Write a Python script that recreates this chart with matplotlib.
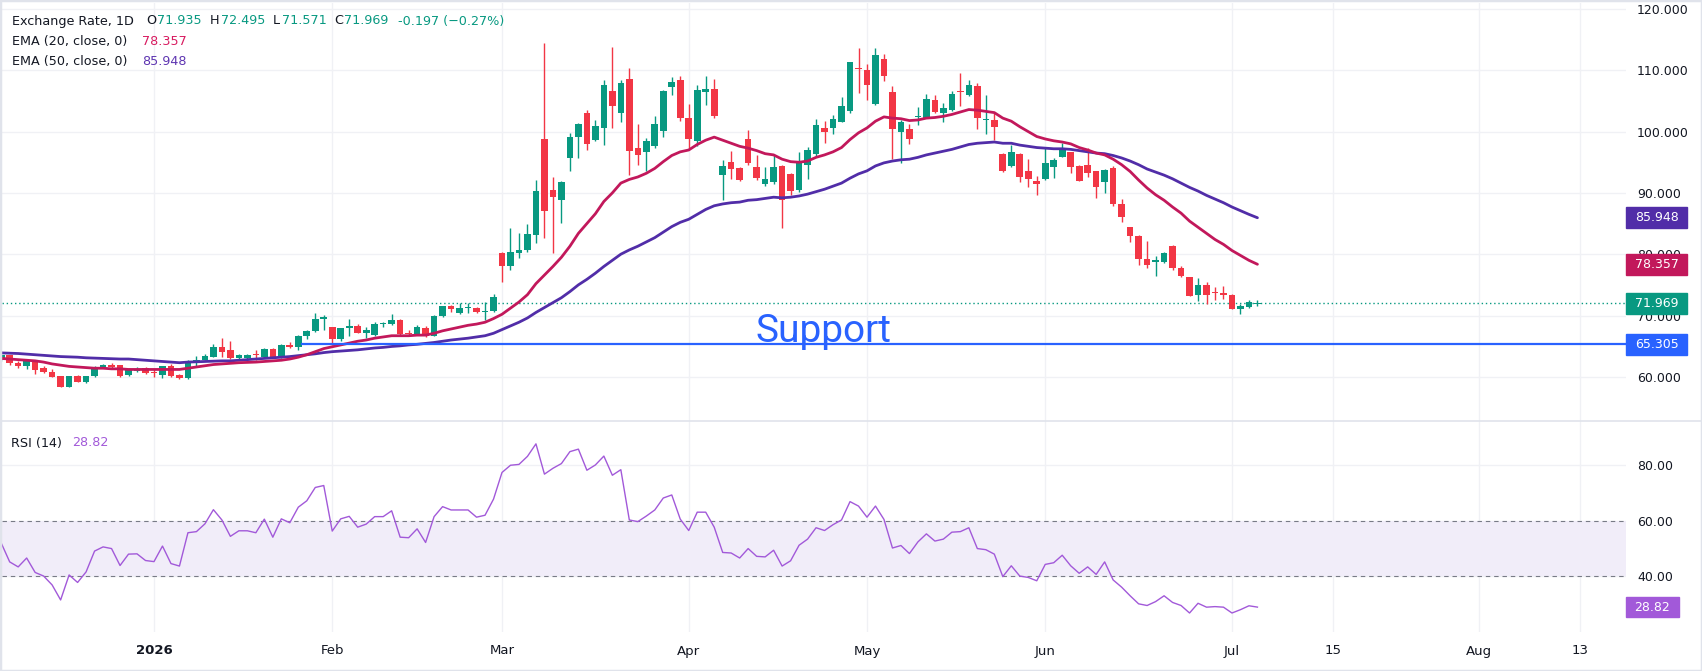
import numpy as np
import matplotlib.pyplot as plt
from matplotlib import transforms
from matplotlib.patches import Rectangle
from matplotlib.lines import Line2D

# ---- data (one candle per trading day) ----
opens = [62.8, 63.5, 62.3, 61.7, 62.5, 61.4, 60.8, 60.1, 58.4, 60.1,
         59.1, 60.1, 61.6, 62.0, 61.9, 60.3, 60.9, 61.4, 60.8, 60.3,
         61.7, 60.3, 59.8, 62.6, 62.8, 63.3, 64.8, 64.3, 63.1, 63.0,
         63.6, 63.2, 64.6, 63.2, 65.2, 64.8, 66.6, 67.4, 69.4, 68.1,
         66.1, 67.9, 68.3, 67.2, 66.8, 68.6, 68.6, 69.3, 67.1, 67.0,
         68.0, 66.7, 69.9, 71.6, 70.4, 71.2, 71.2, 70.6, 70.8, 80.2,
         78.0, 80.2, 80.7, 83.2, 98.8, 90.5, 88.8, 95.7, 99.2, 103.0,
         98.6, 100.6, 106.6, 103.1, 108.6, 97.4, 96.6, 97.7, 100.1, 107.3,
         108.4, 102.2, 98.4, 106.4, 106.9, 92.9, 95.1, 94.1, 98.8, 94.3,
         91.4, 91.7, 94.4, 93.1, 90.4, 94.6, 96.3, 100.6, 100.6, 101.6,
         103.4, 110.4, 110.0, 104.5, 111.9, 106.5, 100.0, 100.5, 102.4, 102.3,
         105.2, 103.1, 103.5, 106.6, 105.9, 107.4, 101.9, 101.9, 96.3, 94.4,
         96.3, 93.6, 91.9, 92.2, 94.3, 95.9, 96.6, 94.4, 94.5, 93.5,
         91.7, 94.1, 88.2, 84.4, 83.0, 79.2, 78.7, 78.8, 81.3, 77.8,
         76.2, 73.3, 74.9, 73.8, 73.6, 73.3, 71.1, 71.4, 71.935]
highs = [63.7, 63.6, 62.6, 62.6, 62.6, 61.7, 61.2, 60.2, 60.2, 60.3,
         60.2, 61.7, 62.1, 62.2, 62.0, 61.5, 61.6, 61.6, 61.2, 61.8,
         62.1, 60.5, 62.7, 63.4, 63.7, 65.3, 66.3, 65.9, 63.8, 63.8,
         64.4, 64.7, 64.7, 65.3, 65.6, 66.8, 67.6, 70.4, 70.1, 68.2,
         68.0, 69.4, 68.6, 68.1, 69.0, 69.0, 70.3, 69.5, 67.6, 68.4,
         68.3, 70.1, 71.6, 71.7, 72.0, 72.0, 71.4, 72.2, 73.5, 80.3,
         84.3, 83.5, 84.9, 92.1, 114.5, 92.6, 91.9, 99.7, 101.4, 103.5,
         101.9, 108.4, 113.8, 108.5, 110.4, 101.2, 98.9, 102.5, 106.8, 108.9,
         109.1, 104.5, 107.6, 109.1, 108.6, 95.4, 96.9, 94.2, 100.3, 96.2,
         94.3, 96.2, 94.5, 93.2, 96.7, 97.5, 102.1, 101.8, 102.7, 105.7,
         111.4, 113.6, 111.1, 113.6, 112.7, 107.4, 101.9, 101.2, 104.0, 106.2,
         105.9, 104.7, 106.7, 109.6, 108.4, 107.9, 106.0, 103.0, 96.5, 97.8,
         96.5, 95.6, 92.8, 97.4, 95.7, 98.2, 96.7, 94.6, 97.3, 93.6,
         93.9, 94.4, 89.0, 84.5, 83.2, 82.2, 79.7, 80.4, 81.5, 78.0,
         76.3, 76.1, 75.5, 74.7, 74.8, 73.5, 71.8, 72.5, 72.495]
lows = [62.5, 62.0, 61.5, 61.2, 60.5, 60.6, 59.9, 58.3, 58.3, 59.1,
        59.0, 60.0, 61.4, 61.5, 60.0, 60.2, 60.8, 60.5, 59.9, 59.8,
        60.0, 59.7, 59.7, 61.7, 62.7, 63.2, 63.2, 62.9, 62.8, 62.8,
        62.7, 63.1, 63.0, 63.1, 64.7, 64.3, 66.1, 67.3, 67.6, 65.2,
        65.9, 66.7, 67.1, 66.4, 66.7, 68.2, 68.5, 66.9, 66.6, 66.9,
        66.5, 66.6, 69.8, 70.6, 70.3, 70.4, 70.4, 69.3, 70.5, 75.5,
        77.5, 79.4, 80.4, 81.8, 82.7, 80.2, 85.1, 93.5, 95.7, 97.0,
        98.4, 97.8, 100.6, 101.5, 92.9, 94.5, 93.6, 97.4, 99.2, 105.9,
        101.8, 97.1, 97.6, 104.3, 102.3, 88.8, 92.3, 92.0, 94.6, 92.1,
        91.2, 91.5, 84.3, 89.6, 90.1, 92.3, 96.1, 98.1, 99.6, 101.6,
        103.0, 106.3, 105.1, 104.3, 108.2, 95.6, 94.8, 98.0, 101.1, 102.2,
        103.0, 101.5, 103.4, 104.2, 105.8, 100.4, 99.6, 98.6, 93.4, 94.3,
        91.8, 90.9, 89.7, 92.1, 92.5, 95.8, 93.3, 91.9, 92.6, 89.1,
        90.0, 87.9, 85.2, 82.0, 78.2, 77.7, 76.5, 78.6, 77.5, 76.3,
        73.2, 72.4, 71.9, 72.5, 72.7, 71.1, 70.2, 71.3, 71.571]
closes = [63.5, 62.2, 61.7, 62.5, 61.1, 60.8, 60.0, 58.4, 60.1, 59.2,
          60.1, 61.6, 62.0, 61.6, 60.1, 61.1, 61.0, 60.6, 60.7, 61.7,
          60.1, 59.8, 62.6, 62.8, 63.4, 64.8, 64.1, 63.0, 63.6, 63.6,
          63.5, 64.6, 63.2, 65.2, 64.8, 66.7, 67.5, 69.4, 69.8, 66.1,
          67.9, 68.3, 67.2, 67.6, 68.6, 68.8, 69.3, 67.0, 67.0, 68.2,
          66.7, 69.9, 71.6, 71.0, 71.2, 71.3, 70.5, 70.8, 73.1, 78.0,
          80.4, 80.7, 83.3, 90.3, 87.0, 89.4, 91.7, 99.2, 101.2, 98.0,
          100.9, 107.6, 104.1, 108.0, 96.9, 96.2, 98.5, 101.3, 106.7, 108.1,
          102.3, 98.8, 106.8, 106.9, 102.5, 94.4, 93.9, 92.1, 94.8, 92.5,
          92.3, 94.3, 88.8, 90.3, 94.9, 97.0, 101.1, 100.0, 102.0, 104.2,
          111.3, 110.2, 107.6, 112.5, 109.1, 100.5, 101.5, 98.8, 102.5, 105.4,
          103.2, 103.9, 106.2, 106.4, 107.6, 102.3, 102.0, 100.8, 93.6, 96.6,
          92.6, 92.2, 91.4, 94.8, 95.4, 97.2, 94.3, 92.0, 93.3, 91.0,
          93.8, 88.2, 86.0, 82.9, 79.2, 78.2, 79.1, 80.2, 77.7, 76.4,
          73.2, 74.9, 73.3, 73.7, 73.4, 71.1, 71.6, 72.166, 71.969]

ema20 = [63.0, 62.9, 62.8, 62.7, 62.6, 62.4, 62.1, 61.9, 61.7, 61.6,
         61.5, 61.4, 61.4, 61.3, 61.3, 61.2, 61.2, 61.2, 61.2, 61.2,
         61.2, 61.2, 61.4, 61.6, 61.8, 62.0, 62.1, 62.2, 62.3, 62.35,
         62.4, 62.5, 62.6, 62.7, 62.9, 63.2, 63.6, 64.1, 64.6, 64.9,
         65.2, 65.5, 65.8, 66.0, 66.3, 66.5, 66.7, 66.7, 66.7, 66.8,
         66.8, 67.1, 67.5, 67.8, 68.1, 68.4, 68.6, 68.9, 69.5, 70.2,
         71.2, 72.2, 73.4, 75.2, 76.6, 78.0, 79.5, 81.3, 83.4, 85.0,
         86.6, 88.6, 90.0, 91.6, 92.2, 92.6, 93.2, 94.0, 95.1, 96.1,
         96.7, 97.0, 97.9, 98.6, 99.1, 98.6, 98.1, 97.6, 97.3, 96.9,
         96.4, 96.2, 95.5, 95.1, 95.0, 95.2, 95.8, 96.2, 96.7, 97.4,
         98.7, 99.8, 100.6, 101.7, 102.4, 102.2, 102.1, 101.8, 101.9, 102.2,
         102.3, 102.5, 102.8, 103.2, 103.6, 103.5, 103.3, 103.1, 102.2, 101.7,
         100.8, 100.0, 99.2, 98.8, 98.5, 98.3, 98.0, 97.4, 97.0, 96.5,
         96.2, 95.5, 94.6, 93.5, 92.1, 90.8, 89.7, 88.8, 87.7, 86.7,
         85.4, 84.4, 83.4, 82.4, 81.6, 80.6, 79.8, 79.0, 78.357]
ema50 = [63.9, 63.85, 63.8, 63.7, 63.6, 63.5, 63.4, 63.3, 63.25, 63.2,
         63.1, 63.05, 63.0, 62.95, 62.9, 62.9, 62.8, 62.7, 62.6, 62.5,
         62.4, 62.3, 62.4, 62.45, 62.5, 62.55, 62.6, 62.6, 62.7, 62.8,
         62.9, 63.0, 63.1, 63.2, 63.3, 63.45, 63.6, 63.75, 63.95, 64.1,
         64.2, 64.3, 64.4, 64.55, 64.7, 64.8, 64.95, 65.05, 65.2, 65.3,
         65.45, 65.6, 65.8, 66.0, 66.15, 66.3, 66.5, 66.7, 67.1, 67.7,
         68.3, 68.9, 69.6, 70.5, 71.3, 72.1, 72.9, 73.9, 75.0, 75.9,
         76.9, 78.0, 79.0, 80.0, 80.7, 81.3, 82.0, 82.7, 83.6, 84.5,
         85.2, 85.7, 86.5, 87.3, 87.9, 88.2, 88.4, 88.5, 88.8, 88.9,
         89.1, 89.3, 89.2, 89.3, 89.5, 89.8, 90.2, 90.6, 91.1, 91.6,
         92.4, 93.1, 93.6, 94.4, 94.9, 95.2, 95.4, 95.5, 95.8, 96.2,
         96.5, 96.8, 97.1, 97.5, 97.9, 98.1, 98.2, 98.3, 98.1, 98.1,
         97.8, 97.6, 97.4, 97.3, 97.2, 97.2, 97.1, 96.9, 96.7, 96.5,
         96.4, 96.1, 95.7, 95.2, 94.6, 93.9, 93.4, 92.9, 92.3, 91.6,
         90.9, 90.3, 89.6, 89.0, 88.4, 87.7, 87.1, 86.5, 85.948]
rsi = [51.9, 45.1, 43.3, 46.5, 41.3, 40.0, 36.8, 31.4, 40.4, 37.7,
       41.5, 49.0, 50.5, 49.9, 43.8, 47.9, 48.0, 45.6, 45.2, 50.8,
       44.5, 43.6, 55.6, 56.0, 58.8, 63.9, 60.2, 54.3, 56.3, 56.3,
       55.6, 60.5, 54.0, 60.6, 59.2, 64.8, 67.1, 71.9, 72.6, 56.2,
       60.6, 61.5, 57.6, 58.7, 61.4, 61.4, 63.5, 54.0, 53.8, 57.0,
       52.1, 61.4, 65.0, 63.8, 63.8, 63.8, 61.2, 61.9, 67.7, 77.3,
       79.9, 80.2, 83.1, 87.6, 76.7, 78.8, 80.5, 84.8, 85.7, 78.1,
       80.0, 83.2, 76.3, 78.3, 60.2, 59.6, 61.6, 63.8, 68.1, 69.2,
       60.5, 56.4, 63.0, 63.0, 57.6, 48.5, 48.3, 46.5, 49.9, 47.1,
       46.9, 49.3, 43.6, 45.5, 51.1, 53.3, 57.4, 56.4, 58.5, 60.2,
       66.8, 65.2, 61.2, 65.2, 60.4, 50.1, 51.0, 48.1, 52.3, 55.2,
       52.6, 53.3, 55.8, 56.0, 57.4, 49.9, 49.5, 47.9, 39.8, 43.7,
       40.0, 39.5, 38.3, 44.2, 44.8, 47.5, 43.7, 41.0, 43.3, 40.6,
       45.1, 38.6, 36.0, 32.9, 30.0, 29.4, 30.8, 32.9, 30.5, 29.4,
       26.7, 30.2, 28.8, 29.0, 28.8, 26.7, 27.9, 29.3, 28.82]

support = 65.305
support_start = 35.3

# date labels sit at bar positions (future dates extend past the last bar)
tick_pos = [18, 39, 59, 81, 102, 123, 145, 156.9, 174.05, 186.0]
tick_lab = ["2026", "Feb", "Mar", "Apr", "May", "Jun", "Jul", "15", "Aug", "13"]

# ---- colours ----
UP, DOWN = "#089981", "#f23645"
C_EMA20, C_EMA50 = "#c2185b", "#512da8"
C_RSI = "#a259d9"
C_SUP = "#2962ff"
TXT = "#131722"
GRID = "#f0f1f5"

W, H = 1702, 671
plt.rcParams["font.family"] = "DejaVu Sans"
fig = plt.figure(figsize=(W / 100, H / 100), dpi=100)


def px_axes(x0, y0, x1, y1, **kw):
    return fig.add_axes([x0 / W, 1 - y1 / H, (x1 - x0) / W, (y1 - y0) / H], **kw)


ax = px_axes(2, 3, 1626, 421)
ax_r = px_axes(2, 421, 1626, 632, sharex=ax)

opens, highs, lows, closes = map(np.array, (opens, highs, lows, closes))
x = np.arange(len(closes))
col = np.where(closes >= opens, UP, DOWN)

# candles
ax.vlines(x, lows, highs, colors=col, lw=1.0, zorder=3)
ax.bar(x, np.maximum(np.abs(closes - opens), 0.16), bottom=np.minimum(opens, closes),
       width=0.78, color=col, linewidth=0, zorder=4)

ax.plot(x, ema50, color=C_EMA50, lw=2.0, zorder=5, solid_capstyle="round")
ax.plot(x, ema20, color=C_EMA20, lw=2.0, zorder=5, solid_capstyle="round")

ax.hlines(support, support_start, 192, color=C_SUP, lw=1.6, zorder=6)
ax.axhline(closes[-1], color=UP, lw=1.0, linestyle=(0, (1, 2)), zorder=2)
ax.text(88.9, 65.68, "Support", color=C_SUP, fontsize=28, family="Roboto",
        ha="left", va="baseline", zorder=7)

ax.set_xlim(0.094, 191.42)
ax.set_ylim(52.79, 120.98)
ax.set_yticks(range(60, 121, 10))
ax.yaxis.set_major_formatter(plt.FuncFormatter(lambda v, p: f"{v:.3f}"))

# RSI pane
ax_r.axhspan(40, 60, color="#f1edf9", lw=0, zorder=1)
for lvl in (40, 60):
    ax_r.axhline(lvl, color="#787b86", lw=0.8, linestyle=(0, (4, 3.5)), zorder=2)
ax_r.plot(x, rsi, color=C_RSI, lw=1.0, zorder=4)
ax_r.set_ylim(19.86, 95.83)
ax_r.set_yticks([40, 60, 80])
ax_r.yaxis.set_major_formatter(plt.FuncFormatter(lambda v, p: f"{v:.2f}"))

ax_r.set_xticks(tick_pos)
ax_r.set_xticklabels(tick_lab)
ax_r.get_xticklabels()[0].set_fontweight("bold")

for a in (ax, ax_r):
    a.set_facecolor("white")
    for s in a.spines.values():
        s.set_visible(False)
    a.yaxis.tick_right()
    a.tick_params(axis="y", length=0, pad=8, labelsize=9, labelcolor=TXT)
    a.tick_params(axis="x", length=0, pad=9, labelsize=9.5, labelcolor=TXT)
    a.grid(True, color=GRID, lw=1.0)
    a.set_axisbelow(True)
plt.setp(ax.get_xticklabels(), visible=False)


def badge(a, y, h, text, color, w=61):
    tr = transforms.blended_transform_factory(a.transAxes, a.transData)
    wf = w / 1624
    a.add_patch(Rectangle((1.0, y - h / 2), wf, h, transform=tr, color=color,
                          clip_on=False, zorder=10))
    a.text(1.0 + wf / 2, y, text, transform=tr, color="white", fontsize=9,
           ha="center", va="center", zorder=11, clip_on=False)


badge(ax, ema50[-1], 3.43, f"{ema50[-1]:.3f}", C_EMA50)
badge(ax, ema20[-1], 3.43, f"{ema20[-1]:.3f}", C_EMA20)
badge(ax, closes[-1], 3.43, f"{closes[-1]:.3f}", UP)
badge(ax, support, 3.43, f"{support:.3f}", C_SUP)
badge(ax_r, rsi[-1], 7.2, f"{rsi[-1]:.2f}", C_RSI, w=53)

# legends
chg = closes[-1] - closes[-2]
pct = chg / closes[-2] * 100
pct_txt = f"{pct:.2f}".replace("-", "\u2212")
rows = [
    (21, [("Exchange Rate, 1D", 11.7, TXT), ("O", 146, TXT), (f"{opens[-1]:.3f}", 157, UP),
          ("H", 210, TXT), (f"{highs[-1]:.3f}", 221, UP), ("L", 273, TXT),
          (f"{lows[-1]:.3f}", 282, UP), ("C", 334, TXT), (f"{closes[-1]:.3f}", 344, UP),
          (f"{chg:.3f} ({pct_txt}%)", 398, UP)]),
    (41.5, [("EMA (20, close, 0)", 11.7, TXT), (f"{ema20[-1]:.3f}", 142, "#d81b60")]),
    (61.5, [("EMA (50, close, 0)", 11.7, TXT), (f"{ema50[-1]:.3f}", 142, "#5e35b1")]),
    (443, [("RSI (14)", 11.2, TXT), (f"{rsi[-1]:.2f}", 71.7, C_RSI)]),
]
for yy, items in rows:
    for t, xx, c in items:
        fig.text(xx / W, 1 - yy / H, t, color=c, fontsize=9.2, ha="left", va="center")

# pane separator and outer frame
fig.add_artist(Line2D([0, 1], [1 - 421 / H] * 2, color="#e0e3eb", lw=1.2))
fig.add_artist(Rectangle((0, 0), 1, 1, transform=fig.transFigure, fill=False,
                         ec="#e0e3eb", lw=2.5))

fig.savefig("out.png", dpi=100, facecolor="white")
